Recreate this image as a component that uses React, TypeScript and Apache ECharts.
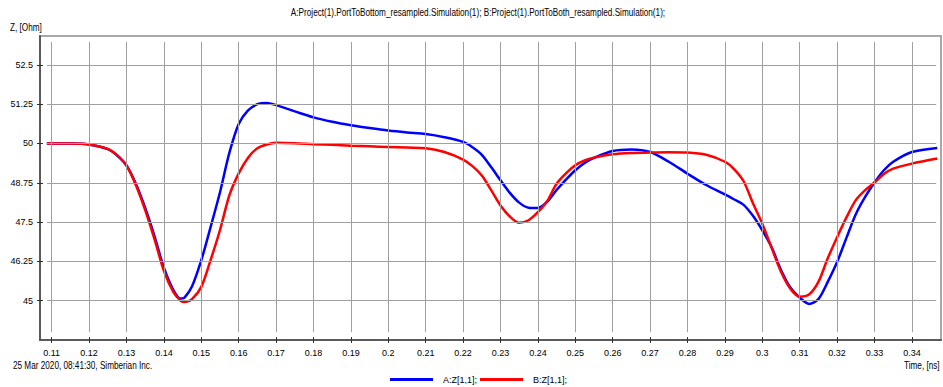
import React, { useEffect, useRef } from "react";
import * as echarts from "echarts";

const times = [0.1087, 0.115, 0.12, 0.125, 0.1275, 0.13, 0.1325, 0.135, 0.1375, 0.14, 0.1425, 0.1445, 0.1455, 0.1475, 0.15, 0.1525, 0.155, 0.1575, 0.16, 0.1625, 0.165, 0.1675, 0.17, 0.175, 0.18, 0.185, 0.19, 0.195, 0.2, 0.205, 0.21, 0.215, 0.22, 0.2225, 0.225, 0.2275, 0.23, 0.2325, 0.235, 0.2375, 0.24, 0.2425, 0.245, 0.2475, 0.25, 0.2525, 0.255, 0.26, 0.265, 0.27, 0.275, 0.28, 0.285, 0.29, 0.2925, 0.295, 0.2975, 0.3, 0.3025, 0.305, 0.3075, 0.31, 0.3125, 0.315, 0.3175, 0.32, 0.3225, 0.325, 0.3275, 0.33, 0.3325, 0.335, 0.34, 0.3468];

const zA = [50.0, 50.0, 49.97, 49.82, 49.62, 49.3, 48.72, 47.95, 47.05, 46.05, 45.35, 45.07, 45.1, 45.45, 46.29, 47.35, 48.45, 49.7, 50.62, 51.05, 51.25, 51.29, 51.22, 51.02, 50.83, 50.69, 50.58, 50.49, 50.41, 50.35, 50.3, 50.2, 50.05, 49.88, 49.64, 49.25, 48.83, 48.43, 48.12, 47.96, 47.95, 48.15, 48.52, 48.85, 49.15, 49.38, 49.54, 49.76, 49.81, 49.73, 49.42, 49.04, 48.68, 48.38, 48.22, 48.05, 47.7, 47.24, 46.7, 45.98, 45.42, 45.1, 44.9, 45.05, 45.6, 46.23, 47.0, 47.75, 48.3, 48.76, 49.15, 49.42, 49.73, 49.86];

const zB = [50.0, 50.0, 49.97, 49.83, 49.63, 49.3, 48.68, 47.88, 46.95, 45.95, 45.28, 45.0, 44.96, 45.05, 45.44, 46.3, 47.25, 48.35, 49.05, 49.55, 49.85, 49.97, 50.02, 50.01, 49.98, 49.96, 49.93, 49.91, 49.89, 49.87, 49.85, 49.73, 49.49, 49.28, 48.98, 48.52, 48.03, 47.68, 47.48, 47.56, 47.82, 48.17, 48.72, 49.05, 49.31, 49.46, 49.55, 49.66, 49.7, 49.71, 49.72, 49.71, 49.64, 49.42, 49.18, 48.8, 48.1, 47.45, 46.68, 45.92, 45.38, 45.13, 45.2, 45.6, 46.35, 47.02, 47.65, 48.2, 48.52, 48.76, 49.03, 49.2, 49.36, 49.52];

const xTicks = [0.11, 0.12, 0.13, 0.14, 0.15, 0.16, 0.17, 0.18, 0.19, 0.2, 0.21, 0.22, 0.23, 0.24, 0.25, 0.26, 0.27, 0.28, 0.29, 0.3, 0.31, 0.32, 0.33, 0.34];
const yTicks = [45, 46.25, 47.5, 48.75, 50, 51.25, 52.5];

const titleText = "A:Project(1).PortToBottom_resampled.Simulation(1); B:Project(1).PortToBoth_resampled.Simulation(1);";
const yAxisTitle = "Z, [Ohm]";
const xAxisTitle = "Time, [ns]";
const footerText = "25 Mar 2020, 08:41:30, Simberian Inc.";
const seriesNames = ["A:Z[1,1];", "B:Z[1,1];"];

const X_MIN = 0.106872;
const X_MAX = 0.34778;
const Y_MIN = 43.752;
const Y_MAX = 53.418;
const GX_MIN = 0.10874;
const GX_MAX = 0.3465;
const GY_MIN = 44.0;
const GY_MAX = 53.227;

const FONT = "'Liberation Sans', Arial, sans-serif";
const SQ = 0.82;
const fmt = (v: number) => String(+v.toFixed(2));

export default function App() {
  const ref = useRef<HTMLDivElement>(null);
  useEffect(() => {
    if (!ref.current) return;
    const chart = echarts.init(ref.current, null, { renderer: "svg" });
    const gridLines: any[] = [];
    xTicks.forEach((x) => gridLines.push([{ coord: [x, GY_MIN] }, { coord: [x, GY_MAX] }]));
    yTicks.forEach((y) => gridLines.push([{ coord: [GX_MIN, y] }, { coord: [GX_MAX, y] }]));

    const gridRect = { left: 40, top: 36, width: 901, height: 304 };
    const baseX = (idx: number, inside: boolean) => ({
      type: "value",
      gridIndex: idx,
      min: X_MIN,
      max: X_MAX,
      position: "bottom",
      axisLine: { show: idx === 0, onZero: false, lineStyle: { color: "#5a5a5a", width: 2 } },
      axisTick: { show: true, inside, length: 3, customValues: xTicks, lineStyle: { color: "#303030", width: 1 } },
      axisLabel: { show: idx === 0, customValues: xTicks, formatter: fmt, margin: 8, color: "#000", fontSize: 9, fontFamily: FONT },
      splitLine: { show: false },
    });
    const baseY = (idx: number, inside: boolean) => ({
      type: "value",
      gridIndex: idx,
      min: Y_MIN,
      max: Y_MAX,
      position: "left",
      axisLine: { show: idx === 0, onZero: false, lineStyle: { color: "#5a5a5a", width: 2 } },
      axisTick: { show: true, inside, length: 3, customValues: yTicks, lineStyle: { color: "#303030", width: 1 } },
      axisLabel: { show: idx === 0, customValues: yTicks, formatter: fmt, margin: 7, color: "#000", fontSize: 9, fontFamily: FONT },
      splitLine: { show: false },
    });

    const txt = (text: string, x: number, y: number, align: string) => ({
      type: "text",
      x,
      y,
      scaleX: SQ,
      silent: true,
      style: { text, fill: "#000", font: `10px ${FONT}`, align, verticalAlign: "middle" },
    });

    chart.setOption({
      animation: false,
      backgroundColor: "#ffffff",
      legend: {
        data: seriesNames,
        left: 390,
        top: 374,
        padding: 0,
        icon: "rect",
        itemWidth: 43,
        itemHeight: 3,
        itemGap: 3,
        textStyle: { fontSize: 9, lineHeight: 11, color: "#000", fontFamily: FONT, padding: [0, 0, 0, 5] },
      },
      grid: [
        { ...gridRect, show: true, borderColor: "#a8a8a8", borderWidth: 2, backgroundColor: "transparent" },
        { ...gridRect, show: false },
      ],
      xAxis: [baseX(0, false), baseX(1, true)],
      yAxis: [baseY(0, false), baseY(1, true)],
      graphic: [
        txt(titleText, 478, 13, "center"),
        txt(yAxisTitle, 10, 28, "left"),
        txt(footerText, 13, 366, "left"),
        txt(xAxisTitle, 904, 366, "left"),
      ],
      series: [
        {
          type: "line",
          xAxisIndex: 0,
          yAxisIndex: 0,
          data: [],
          z: 1,
          silent: true,
          markLine: {
            silent: true,
            symbol: ["none", "none"],
            label: { show: false },
            lineStyle: { color: "#a0a0a0", width: 1, type: "solid" },
            data: gridLines,
          },
        },
        {
          name: seriesNames[0],
          type: "line",
          xAxisIndex: 0,
          yAxisIndex: 0,
          data: times.map((t, i) => [t, zA[i]]),
          showSymbol: false,
          symbol: "none",
          smooth: 0.3,
          lineStyle: { color: "#0000ff", width: 2.5 },
          itemStyle: { color: "#0000ff" },
          z: 3,
        },
        {
          name: seriesNames[1],
          type: "line",
          xAxisIndex: 0,
          yAxisIndex: 0,
          data: times.map((t, i) => [t, zB[i]]),
          showSymbol: false,
          symbol: "none",
          smooth: 0.3,
          lineStyle: { color: "#ff0000", width: 2.5 },
          itemStyle: { color: "#ff0000" },
          z: 4,
        },
      ],
    });
    return () => chart.dispose();
  }, []);
  return <div ref={ref} style={{ position: "absolute", left: 0, top: 0, width: 943, height: 387 }} />;
}
